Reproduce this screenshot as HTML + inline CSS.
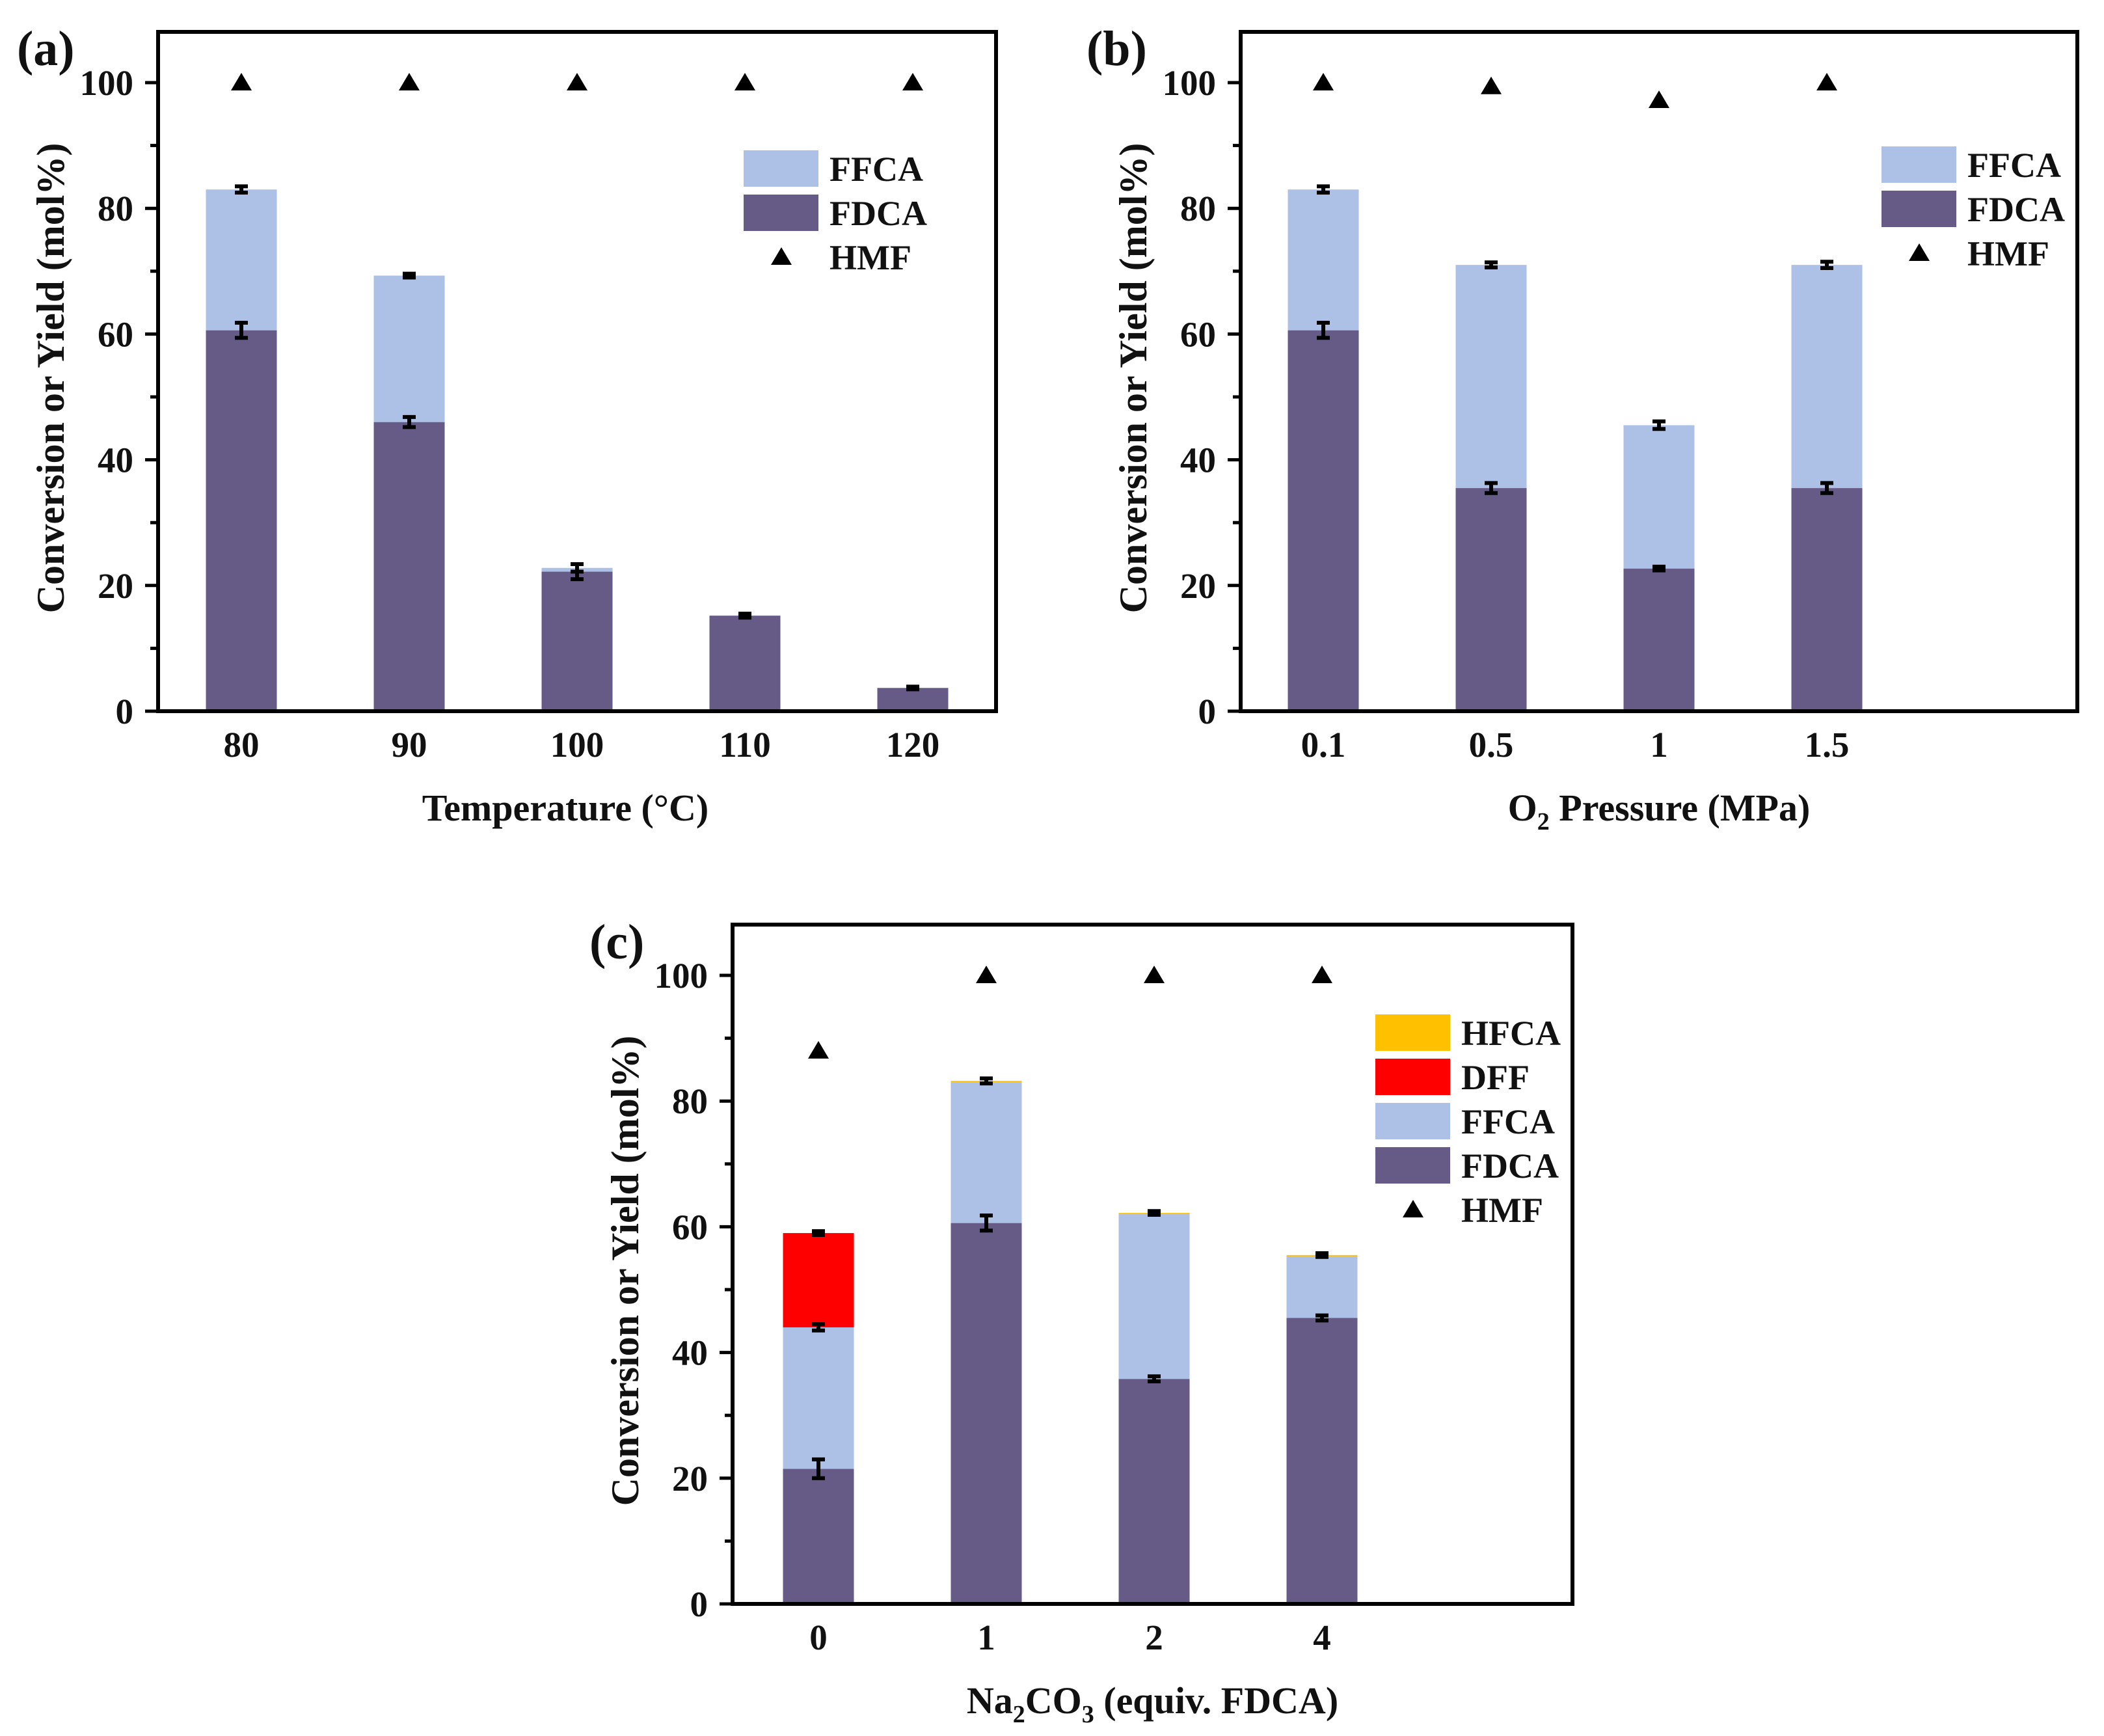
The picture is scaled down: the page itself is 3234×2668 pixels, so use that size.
<!DOCTYPE html>
<html><head><meta charset="utf-8"><style>
html,body{margin:0;padding:0;background:#fff}
svg{display:block}
text{font-family:"Liberation Serif",serif;font-weight:bold;fill:#111}
</style></head><body>
<svg id="fig" width="3234" height="2668" viewBox="0 0 3234 2668" xmlns="http://www.w3.org/2000/svg"></svg>
<script>
// Panel (a)
const aCats = ["80","90","100","110","120"];
const aFDCA = [60.6,46.0,22.2,15.2,3.7];
const aFFCA = [22.4,23.3,0.6,0,0];
const aHMF = [100,100,100,100,100];
const aErrFDCA = [1.2,0.8,1.2,0.3,0.2];
const aErrTop = [0.5,0.3,0.6,0.3,0.2];
// Panel (b)
const bCats = ["0.1","0.5","1","1.5"];
const bFDCA = [60.6,35.5,22.7,35.5];
const bFFCA = [22.4,35.5,22.8,35.5];
const bHMF = [100,99.4,97.2,100];
const bErrFDCA = [1.2,0.8,0.3,0.8];
const bErrTop = [0.5,0.4,0.6,0.5];
// Panel (c)
const cCats = ["0","1","2","4"];
const cFDCA = [21.5,60.6,35.8,45.5];
const cFFCA = [22.5,22.4,26.2,9.8];
const cDFF = [15.0,0,0,0];
const cHFCA = [0,0.2,0.2,0.2];
const cHMF = [88,100,100,100];
const cErrFDCA = [1.5,1.2,0.4,0.4];
const cErrFFCA = [0.5,0,0,0];
const cErrTop = [0.3,0.4,0.3,0.3];
const yTicks = [0,20,40,60,80,100];

const NS="http://www.w3.org/2000/svg";
const svg=document.getElementById('fig');
function mk(tag,attrs,parent,txt){const e=document.createElementNS(NS,tag);for(const k in attrs)e.setAttribute(k,attrs[k]);if(txt!==undefined)e.textContent=txt;(parent||svg).appendChild(e);return e;}
const C={FDCA:"#665b87",FFCA:"#adc1e6",DFF:"#ff0000",HFCA:"#ffc000"};

function panel(cfg){
  const g=mk('g',{});
  
  
  const L=cfg.L,R=cfg.R,T=cfg.T,B=cfg.B,y100=cfg.y100;
  const ys=v=>B-(B-y100)*v/100;
  const xs=i=>cfg.x0+i*258;
  const bw=109;
  cfg.cats.forEach((c,i)=>{
    let base=0;
    cfg.stacks.forEach(s=>{
      const v=s.vals[i]; if(v<=0) return;
      const r=mk('rect',{x:xs(i)-bw/2,y:ys(base+v),width:bw,height:ys(base)-ys(base+v),fill:C[s.key]},g);
      
      
      base+=v;
    });
    const eb=(val,e)=>{ if(e<=0) return;
      const x=xs(i);
      const p=mk('path',{d:`M${x} ${ys(val+e)}V${ys(val-e)}M${x-10} ${ys(val+e)}H${x+10}M${x-10} ${ys(val-e)}H${x+10}`,stroke:'#000','stroke-width':6,fill:'none'},g);
      
      
    };
    eb(cfg.stacks[0].vals[i],cfg.errs[0][i]);
    let acc=cfg.stacks[0].vals[i]+cfg.stacks[1].vals[i];
    if(cfg.errs.length>2){ eb(acc,cfg.errs[1][i]); }
    let tot=0; cfg.stacks.forEach(s=>tot+=s.vals[i]);
    eb(tot,cfg.errs[cfg.errs.length-1][i]);
    const hy=ys(cfg.hmf[i]);
    const t=mk('path',{d:`M${xs(i)} ${hy-15}L${xs(i)+16} ${hy+12}L${xs(i)-16} ${hy+12}Z`,fill:'#000'},g);
    
    
    const xl=mk('text',{x:xs(i),y:B+70,'font-size':55,'text-anchor':'middle'},g,c);
    
    
  });
  const f=mk('rect',{x:L,y:T,width:R-L,height:B-T,fill:'none',stroke:'#000','stroke-width':6},g);
  
  
  for(let v=0;v<=100;v+=10){
    const major=v%20===0;
    mk('line',{x1:L-(major?20:12),x2:L,y1:ys(v),y2:ys(v),stroke:'#000','stroke-width':5},g);
  }
  yTicks.forEach(v=>{
    const tl=mk('text',{x:L-38,y:ys(v)+19,'font-size':55,'text-anchor':'end'},g,String(v));
    
    
  });
  const yt=mk('text',{x:0,y:0,'font-size':60,'text-anchor':'middle',transform:`translate(${L-145},${(T+B)/2+10}) rotate(-90)`},g,'Conversion or Yield (mol%)');
  
  
  const xt=mk('text',{x:(L+R)/2-cfg.xtOff,y:B+168,'font-size':58,'text-anchor':'middle'},g);
  
  
  xt.innerHTML=cfg.xtitle;
  const pl=mk('text',{x:cfg.plx,y:cfg.ply,'font-size':76},g,cfg.label);
  
  
  cfg.legend.forEach((k,j)=>{
    const y=cfg.legY+j*68;
    if(k==='HMF'){
      const lx=cfg.legX+58, ly=y+28;
      mk('path',{d:`M${lx} ${ly-15}L${lx+16} ${ly+12}L${lx-16} ${ly+12}Z`,fill:'#000'},g);
    } else {
      const r=mk('rect',{x:cfg.legX,y:y,width:115,height:56,fill:C[k]},g);
      
      
    }
    const lt=mk('text',{x:cfg.legX+132,y:y+47,'font-size':54},g,k);
    
    
  });
}
panel({name:'panel-a',L:243,R:1531,T:49,B:1093,y100:127,x0:371,cats:aCats,
  stacks:[{key:'FDCA',vals:aFDCA},{key:'FFCA',vals:aFFCA}],errs:[aErrFDCA,aErrTop],hmf:aHMF,
  xtitle:'Temperature (°C)',xtOff:18,label:'(a)',plx:26,ply:100,legX:1143,legY:231,legend:['FFCA','FDCA','HMF']});
panel({name:'panel-b',L:1907,R:3193,T:49,B:1093,y100:127,x0:2034,cats:bCats,
  stacks:[{key:'FDCA',vals:bFDCA},{key:'FFCA',vals:bFFCA}],errs:[bErrFDCA,bErrTop],hmf:bHMF,
  xtitle:'O<tspan font-size="38" dy="14">2</tspan><tspan dy="-14"> Pressure (MPa)</tspan>',xtOff:0,label:'(b)',plx:1670,ply:100,legX:2892,legY:225,legend:['FFCA','FDCA','HMF']});
panel({name:'panel-c',L:1126,R:2417,T:1421,B:2465,y100:1499,x0:1258,cats:cCats,
  stacks:[{key:'FDCA',vals:cFDCA},{key:'FFCA',vals:cFFCA},{key:'DFF',vals:cDFF},{key:'HFCA',vals:cHFCA}],errs:[cErrFDCA,cErrFFCA,cErrTop],hmf:cHMF,
  xtitle:'Na<tspan font-size="38" dy="14">2</tspan><tspan dy="-14">CO</tspan><tspan font-size="38" dy="14">3</tspan><tspan dy="-14"> (equiv. FDCA)</tspan>',xtOff:0,label:'(c)',plx:906,ply:1473,legX:2114,legY:1559,legend:['HFCA','DFF','FFCA','FDCA','HMF']});
</script>
</body></html>
